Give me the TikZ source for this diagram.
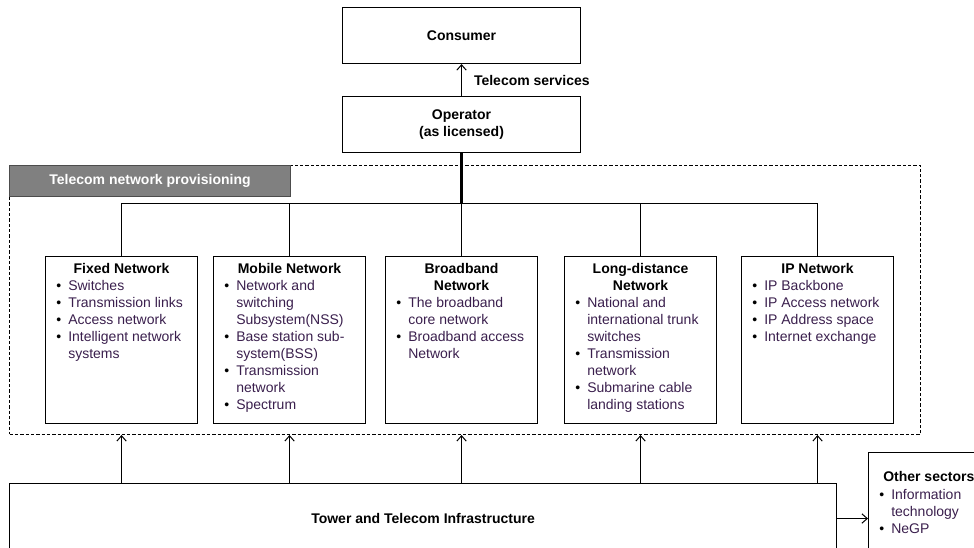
\documentclass[tikz,border=0pt]{standalone}
\usepackage{fontspec}
\setmainfont{Liberation Sans}
\usetikzlibrary{arrows.meta,calc}
\definecolor{itemc}{HTML}{3A1F4D}
\definecolor{grayfill}{HTML}{808080}
\newcommand{\basefont}{\fontsize{10.5pt}{12.75pt}\selectfont}
\newcommand{\bl}{\makebox[9pt][l]{\color{black}\textbullet}}
\newcommand{\ind}{\hspace*{9pt}}
\newcommand{\itemlist}[1]{\begin{tabular}[t]{@{}l@{}}#1\end{tabular}}
\newcommand{\ttl}[1]{\begin{tabular}[t]{@{}c@{}}#1\end{tabular}}
\begin{document}
\begin{tikzpicture}[x=0.75pt,y=-0.75pt,
  every node/.style={font=\basefont, inner sep=0pt},
  box/.style={draw, line width=0.8pt, anchor=north west, inner sep=0pt},
  netbox/.style={box, minimum width=114pt, minimum height=125.25pt},
  title/.style={anchor=base, font=\basefont\bfseries},
  itm/.style={anchor=base west, text=itemc},
  conn/.style={line width=0.75pt},
  arr/.style={line width=0.75pt, -{Straight Barb[length=4pt,width=7pt]}}]
\useasboundingbox (0,0) rectangle (974,548);
\clip (0,0) rectangle (974,548);

% top boxes
\node[box, minimum width=178.5pt, minimum height=42pt, font=\basefont\bfseries] (con) at (342,7) {Consumer};
\node[box, minimum width=178.5pt, minimum height=42pt, font=\basefont\bfseries, align=center] (op) at (342,96) {Operator\\(as licensed)};
\draw[arr] (op.north) -- node[anchor=west, xshift=9pt, font=\basefont\bfseries] (ts) {Telecom services} (con.south);

% provisioning frame
\node[draw, line width=0.75pt, dash pattern=on 2.5pt off 1.5pt, anchor=north west, minimum width=683.25pt, minimum height=201.75pt] (frame) at (9,165) {};
\node[box, fill=grayfill, draw=black!70, minimum width=210.75pt, minimum height=23.25pt, text=white, font=\basefont\bfseries] (prov) at (9,165) {Telecom network provisioning};

% network boxes
\node[netbox] (fx) at (45,256) {};
\node[netbox] (mb) at (213,256) {};
\node[netbox] (bb) at (385,256) {};
\node[netbox] (ld) at (564,256) {};
\node[netbox] (ip) at (741,256) {};

% bus
\coordinate (bus) at (461,204);
\draw[line width=2.2pt] (op.south) -- (op.south |- bus);
\draw[conn] (fx.north) -- (fx.north |- bus) -- (ip.north |- bus) -- (ip.north);
\foreach \n in {mb,bb,ld} {\draw[conn] (\n.north) -- (\n.north |- bus);}

% titles
\node[title] (fxt) at ($(fx.north)+(0,18)$) {\ttl{Fixed Network}};
\node[title] (mbt) at ($(mb.north)+(0,18)$) {\ttl{Mobile Network}};
\node[title] (bbt) at ($(bb.north)+(0,18)$) {\ttl{Broadband\\Network}};
\node[title] (ldt) at ($(ld.north)+(0,18)$) {\ttl{Long-distance\\Network}};
\node[title] (ipt) at ($(ip.north)+(0,18)$) {\ttl{IP Network}};

% items
\node[itm] (fxi) at ($(fx.north west)+(11,35)$) {\itemlist{\bl Switches\\ \bl Transmission links\\ \bl Access network\\ \bl Intelligent network\\ \ind systems}};
\node[itm] (mbi) at ($(mb.north west)+(11,35)$) {\itemlist{\bl Network and\\ \ind switching\\ \ind Subsystem(NSS)\\ \bl Base station sub-\\ \ind system(BSS)\\ \bl Transmission\\ \ind network\\ \bl Spectrum}};
\node[itm] (bbi) at ($(bb.north west)+(11,52)$) {\itemlist{\bl The broadband\\ \ind core network\\ \bl Broadband access\\ \ind Network}};
\node[itm] (ldi) at ($(ld.north west)+(11,52)$) {\itemlist{\bl National and\\ \ind international trunk\\ \ind switches\\ \bl Transmission\\ \ind network\\ \bl Submarine cable\\ \ind landing stations}};
\node[itm] (ipi) at ($(ip.north west)+(11,35)$) {\itemlist{\bl IP Backbone\\ \bl IP Access network\\ \bl IP Address space\\ \bl Internet exchange}};

% bottom
\node[box, minimum width=620.25pt, minimum height=52.5pt, font=\basefont\bfseries] (tw) at (9,483) {Tower and Telecom Infrastructure};
\foreach \n in {fx,mb,bb,ld,ip} {\draw[arr] (tw.north -| \n.south) -- (frame.south -| \n.south);}
\node[box, minimum width=91.5pt, minimum height=81pt] (oth) at (868,452) {};
\draw[arr] (tw.east) -- (tw.east -| oth.west);
\node[anchor=base west, font=\basefont\bfseries] (otht) at ($(oth.north west)+(15,30)$) {Other sectors};
\node[itm] (othi) at ($(oth.north west)+(11,47)$) {\itemlist{\bl Information\\ \ind technology\\ \bl NeGP}};
\end{tikzpicture}
\end{document}
